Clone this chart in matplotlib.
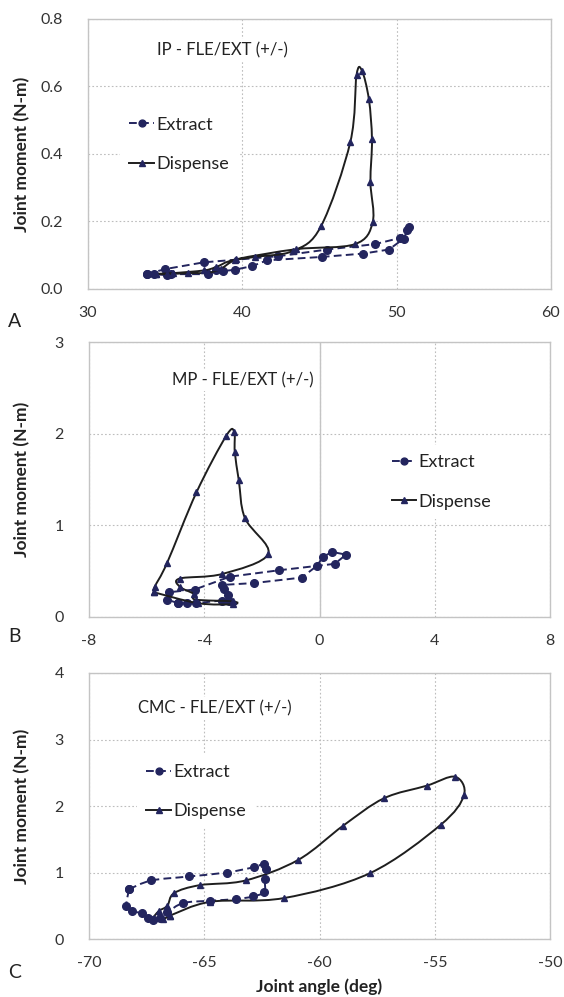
import numpy as np
import matplotlib
matplotlib.use("Agg")
import matplotlib.pyplot as plt
from matplotlib.path import Path
from matplotlib.patches import PathPatch
from matplotlib.lines import Line2D

plt.rcParams['font.family'] = ['Lato', 'DejaVu Sans']

# ---------------- data ----------------
# Panel A  (IP)
a_ext_x = [33.8, 35.0, 37.5, 42.3, 45.5, 48.6, 50.2, 50.8, 50.7, 50.45, 49.5, 47.85, 45.15,
           41.6, 40.65, 39.5, 38.75, 38.3, 37.8, 35.4, 35.1, 34.3, 33.8]
a_ext_y = [0.044, 0.059, 0.079, 0.097, 0.117, 0.133, 0.151, 0.184, 0.174, 0.149, 0.117, 0.105, 0.095,
           0.085, 0.068, 0.057, 0.053, 0.057, 0.044, 0.044, 0.041, 0.044, 0.044]
a_dis_x = [34.4, 35.1, 36.5, 37.8, 38.6, 39.5, 40.8, 43.3, 45.1, 47.0, 47.4, 47.75, 48.2, 48.4,
           48.3, 48.45, 47.3, 43.5, 39.6, 38.3, 37.5, 35.5, 34.4]
a_dis_y = [0.045, 0.044, 0.047, 0.048, 0.060, 0.085, 0.095, 0.113, 0.186, 0.436, 0.634, 0.647, 0.562, 0.443,
           0.317, 0.199, 0.133, 0.118, 0.088, 0.065, 0.055, 0.047, 0.045]

# Panel B  (MP)
b_ext_x = [-4.9, -4.6, -4.3, -3.4, -3.14, -3.17, -3.31, -3.37, -2.28, -0.62, -0.08, 0.11, 0.44, 0.92,
           0.53, -1.40, -3.11, -4.33, -5.22, -5.29, -4.9]
b_ext_y = [0.15, 0.15, 0.15, 0.18, 0.18, 0.24, 0.31, 0.35, 0.37, 0.43, 0.56, 0.655, 0.71, 0.68,
           0.58, 0.51, 0.44, 0.30, 0.27, 0.19, 0.15]
b_dis_x = [-5.75, -5.72, -5.29, -4.27, -3.23, -2.96, -2.94, -2.80, -2.59, -1.78, -3.37, -4.85, -4.85,
           -4.35, -4.3, -3.0, -3.0, -4.2, -5.75]
b_dis_y = [0.27, 0.33, 0.59, 1.36, 1.98, 2.02, 1.80, 1.49, 1.08, 0.69, 0.47, 0.42, 0.33,
           0.25, 0.19, 0.17, 0.14, 0.15, 0.27]

# Panel C  (CMC)
c_ext_x = [-68.26, -67.29, -65.66, -64.03, -62.85, -62.41, -62.3, -62.37, -62.40, -62.88, -63.63, -64.76,
           -65.92, -66.6, -66.93, -67.22, -67.44, -67.72, -68.13, -68.38, -68.26]
c_ext_y = [0.75, 0.88, 0.94, 1.00, 1.08, 1.13, 1.055, 0.90, 0.71, 0.64, 0.60, 0.575,
           0.54, 0.40, 0.315, 0.29, 0.315, 0.39, 0.415, 0.50, 0.75]
c_dis_x = [-66.5, -64.73, -61.55, -57.81, -54.75, -53.73, -54.12, -55.35, -57.21, -58.97, -60.92, -63.21,
           -65.19, -66.31, -66.6, -66.97, -67.2, -66.8, -66.5]
c_dis_y = [0.35, 0.56, 0.615, 0.99, 1.715, 2.165, 2.44, 2.305, 2.115, 1.705, 1.19, 0.88,
           0.81, 0.69, 0.50, 0.42, 0.31, 0.30, 0.35]

titles = ["IP - FLE/EXT (+/-)", "MP - FLE/EXT (+/-)", "CMC - FLE/EXT (+/-)"]
letters = ["A", "B", "C"]
a_xticks = [30, 40, 50, 60]
a_yticks = [0.0, 0.2, 0.4, 0.6, 0.8]
b_xticks = [-8, -4, 0, 4, 8]
b_yticks = [0, 1, 2, 3]
c_xticks = [-70, -65, -60, -55, -50]
c_yticks = [0, 1, 2, 3, 4]

# ---------------- style ----------------
NAVY = '#23255e'
DARK = '#1e1e1e'
GRID = '#bdbdbd'
TICKC = '#333333'


def smooth_path(xs, ys):
    p = np.column_stack([xs, ys]).astype(float)
    n = len(p)
    verts = [p[0]]
    codes = [Path.MOVETO]
    for i in range(n - 1):
        p0 = p[i - 1] if i > 0 else p[i]
        p1 = p[i]
        p2 = p[i + 1]
        p3 = p[i + 2] if i + 2 < n else p[i + 1]
        c1 = p1 + (p2 - p0) / 6.0
        c2 = p2 - (p3 - p1) / 6.0
        verts += [c1, c2, p2]
        codes += [Path.CURVE4] * 3
    return Path(verts, codes)


def draw_series(ax, xs, ys, smooth, ls, marker, lcolor, ms):
    if smooth:
        patch = PathPatch(smooth_path(xs, ys), facecolor='none', edgecolor=lcolor,
                          lw=1.4, linestyle=ls, transform=ax.transData, zorder=3)
        ax.add_patch(patch)
        ax.plot(xs, ys, linestyle='none', marker=marker, ms=ms, color=NAVY, zorder=4)
    else:
        ax.plot(xs, ys, linestyle=ls, lw=1.4, color=lcolor, marker=marker, ms=ms,
                markerfacecolor=NAVY, markeredgecolor=NAVY, zorder=3)


fig = plt.figure(figsize=(5.64, 9.97), dpi=100)
W, H = 564.0, 997.0

DASH = (0, (4, 2.2))

panels = [
    dict(box=(88, 19, 551, 289), ext=(a_ext_x, a_ext_y), dis=(a_dis_x, a_dis_y), ext_smooth=False,
         xt=a_xticks, yt=a_yticks, yfmt='{:.1f}', title_pos=(0.149, 0.885),
         leg=(0.070, 0.672), letter_y=321),
    dict(box=(89, 342, 550, 617), ext=(b_ext_x, b_ext_y), dis=(b_dis_x, b_dis_y), ext_smooth=False,
         xt=b_xticks, yt=b_yticks, yfmt='{:d}', title_pos=(0.18, 0.862),
         leg=(0.637, 0.625), letter_y=637),
    dict(box=(89, 673, 550, 939), ext=(c_ext_x, c_ext_y), dis=(c_dis_x, c_dis_y), ext_smooth=True,
         xt=c_xticks, yt=c_yticks, yfmt='{:d}', title_pos=(0.106, 0.868),
         leg=(0.105, 0.692), letter_y=972),
]

for k, pn in enumerate(panels):
    l, t, r, b = pn['box']
    ax = fig.add_axes([l / W, 1 - b / H, (r - l) / W, (b - t) / H])
    ax.set_xlim(pn['xt'][0], pn['xt'][-1])
    ax.set_ylim(pn['yt'][0], pn['yt'][-1])
    ax.set_xticks(pn['xt'])
    ax.set_yticks(pn['yt'])
    ax.set_xticklabels([str(v) for v in pn['xt']])
    ax.set_yticklabels([pn['yfmt'].format(v) for v in pn['yt']])
    ax.tick_params(length=0, labelsize=11.5, labelcolor=TICKC, pad=12)
    ax.tick_params(axis='y', pad=18)
    ax.grid(True, color=GRID, linestyle=(0, (1.5, 2)), lw=0.8, zorder=0)
    ax.set_axisbelow(True)
    for s in ax.spines.values():
        s.set_color('#c4c4c4')
        s.set_linewidth(1.0)
    if k == 1:
        ax.axvline(0, color='#c4c4c4', lw=1.0, zorder=1)

    ex, ey = pn['ext']
    dx, dy = pn['dis']
    draw_series(ax, ex, ey, pn['ext_smooth'], DASH, 'o', NAVY, 5.5)
    draw_series(ax, dx, dy, True, '-', '^', DARK, 5)

    ax.text(pn['title_pos'][0], pn['title_pos'][1], titles[k], transform=ax.transAxes,
            fontsize=12, color='#222222', ha='left', va='center', zorder=5,
            bbox=dict(facecolor='white', edgecolor='none', pad=2))

    h1 = Line2D([], [], color=NAVY, ls=DASH, lw=1.4, marker='o', ms=5.5)
    h2 = Line2D([], [], color=DARK, ls='-', lw=1.4, marker='^', ms=5, markerfacecolor=NAVY,
                markeredgecolor=NAVY)
    leg = ax.legend([h1, h2], ['Extract', 'Dispense'], loc='upper left',
                    bbox_to_anchor=pn['leg'], fontsize=13, frameon=True, fancybox=False,
                    borderpad=0.5, borderaxespad=0, labelspacing=1.3, handlelength=1.35,
                    handletextpad=0.12, markerscale=0.9)
    leg.get_frame().set_facecolor('white')
    leg.get_frame().set_edgecolor('none')
    leg.get_frame().set_alpha(1)
    for txt in leg.get_texts():
        txt.set_color('#222222')

    cy = 1 - (t + b) / 2 / H
    fig.text(22 / W, cy, 'Joint moment (N-m)', rotation=90, ha='center', va='center',
             fontsize=12.5, fontweight='bold', color='#222222')
    fig.text(15 / W, 1 - pn['letter_y'] / H, letters[k], ha='center', va='center',
             fontsize=14, color='#222222')

fig.text(319.5 / W, 1 - 987 / H, 'Joint angle (deg)', ha='center', va='center',
         fontsize=12.5, fontweight='bold', color='#222222')

fig.savefig('out.png', dpi=100)
